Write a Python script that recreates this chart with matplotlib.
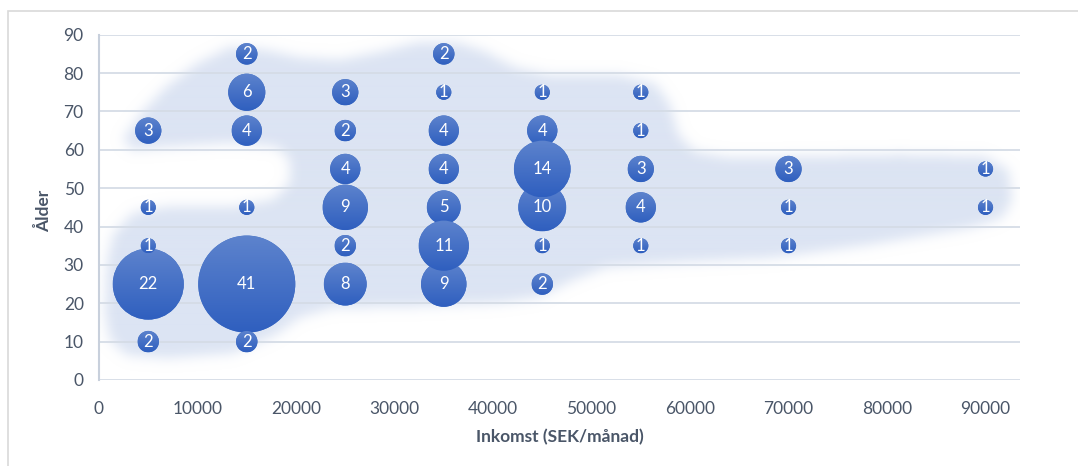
import numpy as np
import matplotlib
matplotlib.use("Agg")
import matplotlib.pyplot as plt
from matplotlib.path import Path
from matplotlib.patches import Circle, Rectangle
from matplotlib.transforms import IdentityTransform

# inkomst (SEK/month), age, count -- later entries are drawn on top
inkomst = [5000, 5000, 5000, 5000, 5000,
           15000, 15000, 15000, 15000, 15000, 15000,
           25000, 25000, 25000, 25000, 25000, 25000,
           35000, 35000, 35000, 35000, 35000, 35000, 35000,
           45000, 45000, 45000, 45000, 45000, 45000,
           55000, 55000, 55000, 55000, 55000,
           70000, 70000, 70000,
           90000, 90000]
alder = [65, 25, 45, 35, 10,
         85, 75, 65, 45, 25, 10,
         75, 65, 55, 45, 35, 25,
         85, 75, 65, 55, 25, 45, 35,
         75, 65, 35, 25, 45, 55,
         75, 65, 55, 45, 35,
         55, 45, 35,
         55, 45]
antal = [3, 22, 1, 1, 2,
         2, 6, 4, 1, 41, 2,
         3, 2, 4, 9, 2, 8,
         2, 1, 4, 4, 9, 5, 11,
         1, 4, 1, 2, 10, 14,
         1, 1, 3, 4, 1,
         3, 1, 1,
         1, 1]

# outline of the shaded background area (data coords)
blob_x = [2438, 4165, 6703, 9749, 13303, 16857, 20411, 24473, 28535, 32597,
          36151, 39197, 42243, 45797, 52905, 56459, 57982, 58794, 60521, 64075,
          71182, 81336, 89967, 92303, 92709, 91694, 88445, 78290, 68441, 57982,
          51584, 48132, 44782, 40720, 30566, 23762, 20412, 17873, 13609, 6906,
          2844, 1118, 610, 814, 1424, 3454, 6906, 13609, 17669, 19396,
          19396, 18076, 13609, 6906, 3454]
blob_y = [62.5, 69.0, 76.0, 82.0, 86.7, 85.9, 83.9, 83.3, 85.4, 88.0,
          88.0, 85.4, 81.3, 79.2, 79.2, 77.1, 71.6, 63.8, 59.4, 57.8,
          58.1, 58.6, 58.1, 54.7, 46.9, 42.2, 39.6, 35.2, 31.8, 30.5,
          29.4, 26.0, 21.6, 20.1, 19.0, 18.8, 16.4, 11.7, 7.0, 5.7,
          6.5, 10.4, 17.4, 30.5, 37.8, 43.5, 45.1, 45.1, 46.9, 51.3,
          57.3, 60.7, 61.7, 60.7, 59.9]

XMAX = 93500
txt = '#4a5668'
plt.rcParams['font.family'] = ['Lato', 'DejaVu Sans']

fig = plt.figure(figsize=(10.78, 4.66), dpi=100)
fig.patches.append(Rectangle((8 / 1078, -0.1), 1.2, (466 - 11) / 466 + 0.1,
                             transform=fig.transFigure, fill=False,
                             edgecolor='#d9d9d9', lw=1.2))
ax = fig.add_axes([99 / 1078, 86 / 466, 921 / 1078, 345.3 / 466])
ax.set_xlim(0, XMAX)
ax.set_ylim(0, 90)

# blurred background shape
nx, ny = 921, 345
gx = (np.arange(nx) + 0.5) / nx * XMAX
gy = (np.arange(ny) + 0.5) / ny * 90
GX, GY = np.meshgrid(gx, gy)
mask = Path(np.column_stack([blob_x, blob_y])).contains_points(
    np.column_stack([GX.ravel(), GY.ravel()])).reshape(ny, nx).astype(float)
k = np.exp(-0.5 * (np.arange(-18, 19) / 6.0) ** 2)
k /= k.sum()
mask = np.apply_along_axis(lambda r: np.convolve(r, k, mode='same'), 1, mask)
mask = np.apply_along_axis(lambda c: np.convolve(c, k, mode='same'), 0, mask)
img = np.zeros((ny, nx, 4))
img[..., :3] = np.array([0xdc, 0xe4, 0xf3]) / 255
img[..., 3] = mask
ax.imshow(img, extent=(0, XMAX, 0, 90), origin='lower', aspect='auto',
          zorder=0, interpolation='bilinear')

ax.set_yticks(range(0, 91, 10))
ax.set_xticks(range(0, 90001, 10000))
ax.grid(axis='y', color='#d5dce6', lw=1.3, zorder=1)
ax.set_axisbelow(True)
for s in ['top', 'right', 'bottom']:
    ax.spines[s].set_visible(False)
ax.spines['left'].set_color('#c8d0dc')
ax.spines['left'].set_linewidth(1.5)
ax.tick_params(length=0, labelsize=12.5, labelcolor=txt)
ax.tick_params(axis='x', pad=15)
ax.tick_params(axis='y', pad=11)

ax.set_xlabel('Inkomst (SEK/månad)', fontsize=12.5, fontweight='bold', color=txt,
              va='center')
ax.xaxis.set_label_coords(0.5, -0.165)
ax.set_ylabel('Ålder', fontsize=12.5, fontweight='bold', color=txt, va='center')
ax.yaxis.set_label_coords(-0.0597, 0.49)

sizes = 119 * np.array(antal)
ax.scatter(inkomst, alder, s=sizes, color='#4070c6', linewidths=0, zorder=2)

# per-bubble vertical gradient (light top, darker bottom)
grad = np.zeros((64, 1, 4))
top = np.array([0x5d, 0x83, 0xcd]) / 255
bot = np.array([0x2f, 0x5f, 0xbf]) / 255
t = np.linspace(0, 1, 64)[:, None]
grad[:, 0, :3] = top * (1 - t) + bot * t
grad[:, 0, 3] = 1
inv = ax.transData.inverted()
for i in range(len(antal)):
    cx, cy = ax.transData.transform((inkomst[i], alder[i]))
    r = np.sqrt(sizes[i]) / 2 * fig.dpi / 72
    (x0, y0), (x1, y1) = inv.transform([(cx - r, cy - r), (cx + r, cy + r)])
    im = ax.imshow(grad, extent=(x0, x1, y0, y1), origin='upper', aspect='auto',
                   zorder=2 + i * 0.01, interpolation='bilinear')
    im.set_clip_path(Circle((cx, cy), r, transform=IdentityTransform()))
    ax.text(inkomst[i], alder[i], str(antal[i]), ha='center', va='center',
            color='white', fontsize=12, zorder=2 + i * 0.01 + 0.005)

ax.set_xlim(0, XMAX)
ax.set_ylim(0, 90)
fig.savefig('out.png', dpi=100)
